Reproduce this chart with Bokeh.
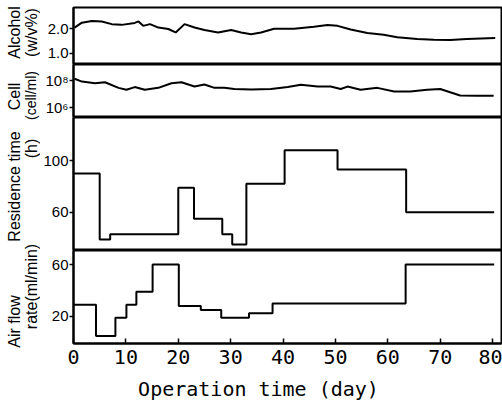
import math
from bokeh.plotting import figure
from bokeh.layouts import column, row
from bokeh.models import Range1d, FixedTicker, PrintfTickFormatter
from bokeh.core.properties import value
from bokeh.embed import file_html
from bokeh.resources import INLINE

# ---------------- data ----------------
alc_days = [0.2, 1.6, 3.5, 5.4, 7.3, 9.2, 11.7, 12.4, 13.3, 14.6, 16.2, 18.1, 19.5,
            21.2, 23.1, 25.0, 27.6, 30.1, 32.0, 33.9, 35.8, 38.3, 42.1, 45.9, 48.5,
            50.4, 52.9, 56.1, 59.2, 61.8, 65.6, 68.8, 71.9, 75.1, 80.5]
alcohol = [2.05, 2.25, 2.32, 2.30, 2.19, 2.16, 2.24, 2.30, 2.12, 2.19, 2.05, 1.99, 1.85,
           2.19, 2.05, 1.95, 1.85, 1.95, 1.85, 1.78, 1.85, 2.00, 2.00, 2.08, 2.15,
           2.12, 1.97, 1.83, 1.76, 1.65, 1.58, 1.55, 1.54, 1.58, 1.62]

cell_days = [0.2, 1.6, 4.1, 6.0, 8.6, 10.1, 11.7, 13.6, 16.2, 18.7, 20.6, 23.1, 25.0,
             26.9, 28.8, 30.7, 33.9, 37.7, 40.9, 43.4, 46.6, 49.1, 51.0, 52.3, 54.8,
             58.0, 61.2, 64.3, 67.5, 70.0, 71.9, 73.8, 77.0, 80.2]
cells = [1.35e8, 8.3e7, 6.3e7, 7.4e7, 2.8e7, 2.0e7, 3.2e7, 2.0e7, 2.8e7, 6.3e7, 7.4e7,
         3.5e7, 5.0e7, 2.8e7, 2.8e7, 2.3e7, 2.1e7, 2.3e7, 3.2e7, 4.8e7, 3.5e7, 3.5e7,
         2.3e7, 3.5e7, 2.0e7, 2.8e7, 1.5e7, 1.5e7, 2.0e7, 2.3e7, 1.3e7, 7.4e6, 7.1e6, 7.1e6]

res_days = [0, 5.0, 7.0, 20.0, 23.0, 28.4, 30.3, 33.0, 40.3, 50.4, 63.5, 80.3]
res_hours = [90, 39, 43, 79, 55, 43, 35, 82, 108, 93, 60, 60]

air_days = [0, 4.3, 8.0, 10.1, 12.0, 15.1, 20.1, 24.3, 28.2, 33.5, 38.0, 63.4, 80.3]
air_rate = [29, 5, 19, 29, 39, 60, 28, 25, 19, 22.5, 30, 60, 60]

x_ticks = [0, 10, 20, 30, 40, 50, 60, 70, 80]
alc_ticks = [1.0, 2.0]
cell_ticks = [1000000, 100000000]
cell_tick_labels = {1000000: "10\u2076", 100000000: "10\u2078"}
res_ticks = [60, 100]
air_ticks = [20, 60]

y_titles_outer = ["Alcohol", "Cell", "Residence time", "Air flow"]
y_titles_inner = ["(w/v%)", "(cell/ml)", "(h)", "rate(ml/min)"]
x_title = "Operation time (day)"

# ---------------- layout ----------------
LABEL_W = 40          # width of the strip holding the y titles
MAIN_W = 502 - LABEL_W
LEFT = 72 - LABEL_W   # room for tick labels
RIGHT = 1
H1, H2, H3, H4 = 64, 53, 133, 125
STACK_H = H1 + H2 + H3 + H4
XLAB_H = 412 - STACK_H
xr = Range1d(0, 81.7)
LABEL_FONT = "Liberation Sans"


def make(height, y_range, top=0, bottom=0, y_axis_type="linear"):
    p = figure(width=MAIN_W, height=height, x_range=xr, y_range=y_range,
               y_axis_type=y_axis_type, output_backend="svg", toolbar_location=None,
               min_border_left=LEFT, min_border_right=RIGHT,
               min_border_top=top, min_border_bottom=bottom)
    p.grid.visible = False
    p.outline_line_color = "black"
    p.outline_line_width = 2
    p.outline_line_alpha = 1
    p.background_fill_color = "white"
    p.border_fill_color = "white"
    ya = p.yaxis[0]
    ya.axis_line_color = "black"
    ya.axis_line_width = 2
    ya.major_tick_in = 0
    ya.major_tick_out = 4
    ya.major_tick_line_width = 1.5
    ya.minor_tick_line_color = None
    ya.major_label_standoff = 1
    ya.major_label_text_font = LABEL_FONT
    ya.major_label_text_font_size = "15px"
    ya.major_label_text_color = "black"
    return p


def blank(width, height):
    f = figure(width=width, height=height, x_range=Range1d(0, width),
               y_range=Range1d(height, 0), output_backend="svg",
               toolbar_location=None, x_axis_location=None, y_axis_location=None,
               min_border=0)
    f.grid.visible = False
    f.outline_line_color = None
    f.background_fill_color = "white"
    f.border_fill_color = "white"
    return f


# Alcohol
p1 = make(H1, Range1d(0.54, 2.87), top=7)
p1.xaxis.visible = False
p1.yaxis.ticker = FixedTicker(ticks=alc_ticks)
p1.yaxis.formatter = PrintfTickFormatter(format="%.1f")
p1.line(alc_days, alcohol, line_width=2, color="black")

# Cell
p2 = make(H2, Range1d(10 ** 5.21, 10 ** 9.21), y_axis_type="log")
p2.xaxis.visible = False
p2.yaxis.ticker = FixedTicker(ticks=cell_ticks)
p2.yaxis.major_label_overrides = cell_tick_labels
p2.line(cell_days, cells, line_width=2, color="black")

# Residence time
p3 = make(H3, Range1d(30.4, 133.3))
p3.xaxis.visible = False
p3.yaxis.ticker = FixedTicker(ticks=res_ticks)
p3.step(res_days, res_hours, mode="after", line_width=2, color="black")

# Air flow rate
p4 = make(H4, Range1d(-0.8, 70.8), bottom=H4 - 93)
p4.yaxis.ticker = FixedTicker(ticks=air_ticks)
p4.step(air_days, air_rate, mode="after", line_width=2, color="black")
xa = p4.xaxis[0]
xa.ticker = FixedTicker(ticks=x_ticks)
xa.axis_line_width = 2
xa.axis_line_color = "black"
xa.major_tick_in = 5
xa.major_tick_out = 0
xa.major_tick_line_width = 1.5
xa.minor_tick_line_color = None
xa.major_label_standoff = 6
xa.major_label_text_font = "DejaVu Sans Mono"
xa.major_label_text_font_size = "20px"
xa.major_label_text_color = "black"

# strip with the y titles (canvas pixel coordinates)
lab = blank(LABEL_W, STACK_H)
lab.text(x=[14, 14, 14, 14], y=[32, 96, 186, 321], text=y_titles_outer,
         angle=math.pi / 2, text_align="center", text_baseline="middle",
         text_font=value(LABEL_FONT), text_font_size=value("16px"),
         text_color="black")
lab.text(x=[30.5, 30.5, 30.5], y=[32, 148, 286],
         text=[y_titles_inner[0], y_titles_inner[2], y_titles_inner[3]],
         angle=math.pi / 2, text_align="center", text_baseline="middle",
         text_font=value(LABEL_FONT), text_font_size=value("16px"),
         text_color="black")
lab.text(x=[30.5], y=[95], text=[y_titles_inner[1]],
         angle=math.pi / 2, text_align="center", text_baseline="middle",
         text_font=value(LABEL_FONT), text_font_size=value("14px"),
         text_color="black")

# strip with the x title
xlab = blank(502, XLAB_H)
xlab.text(x=[258], y=[13], text=[x_title], text_align="center",
          text_baseline="middle", text_font=value("DejaVu Sans Mono"),
          text_font_size=value("20px"), text_color="black")

layout = column(row(lab, column(p1, p2, p3, p4, spacing=0), spacing=0), xlab, spacing=0)
open("out.html", "w").write(file_html(layout, INLINE))
